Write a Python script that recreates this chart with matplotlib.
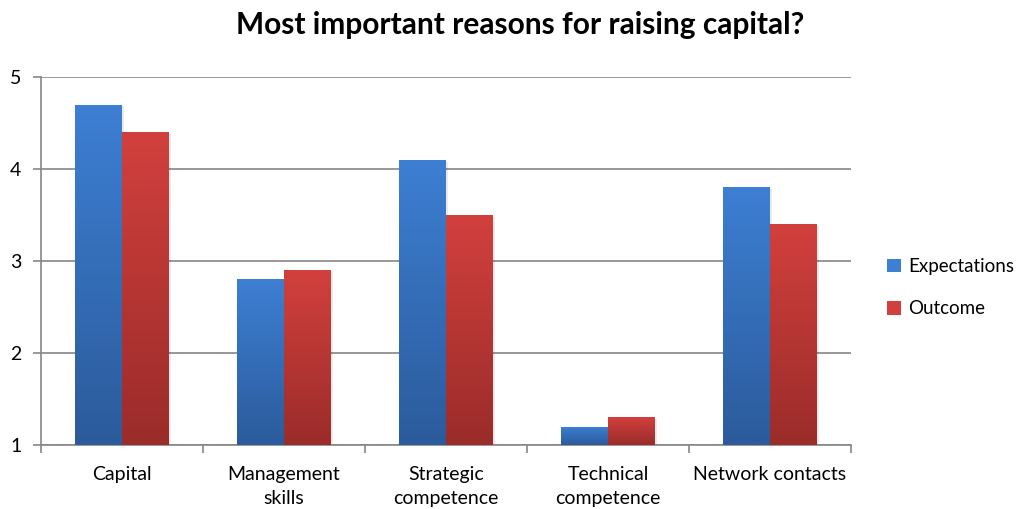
import numpy as np
import matplotlib
matplotlib.use("Agg")
import matplotlib.pyplot as plt
from matplotlib.colors import LinearSegmentedColormap
from matplotlib.patches import Patch

plt.rcParams['font.family'] = ['Lato', 'DejaVu Sans']

categories = ["Capital", "Management\nskills", "Strategic\ncompetence",
              "Technical\ncompetence", "Network contacts"]
expectations = [4.7, 2.8, 4.1, 1.2, 3.8]
outcome = [4.4, 2.9, 3.5, 1.3, 3.4]

series = [
    ("Expectations", expectations, "#3d7fd3", "#2b5b9b"),
    ("Outcome", outcome, "#d2403d", "#9a2c2a"),
]

fig = plt.figure(figsize=(10.24, 5.09), dpi=100)
ax = fig.add_axes([0.040, 0.1257, 0.791, 0.723])

base = 1
width = 0.29
x = np.arange(len(categories))
grad = np.linspace(0, 1, 256).reshape(-1, 1)

for i, (name, vals, top, bottom) in enumerate(series):
    cmap = LinearSegmentedColormap.from_list(name, [bottom, top])
    offset = (i - 0.5) * width
    bars = ax.bar(x + offset, np.array(vals) - base, width, bottom=base,
                  color="none", edgecolor="none", zorder=3)
    for b in bars:
        bx, by = b.get_x(), b.get_y()
        bw, bh = b.get_width(), b.get_height()
        # soft drop shadow
        ax.add_patch(plt.Rectangle((bx + 0.01, by - 0.02), bw, bh,
                                   color="#000000", alpha=0.08, zorder=2,
                                   lw=0))
        im = ax.imshow(grad, extent=(bx, bx + bw, by, by + bh),
                       origin="lower", cmap=cmap, aspect="auto", zorder=3)
        im.set_clip_path(b)

ax.set_xlim(-0.5, len(categories) - 0.5)
ax.set_ylim(1, 5)
ax.set_yticks([1, 2, 3, 4, 5])
ax.yaxis.grid(True, color="#868686", lw=1.2, zorder=0)
ax.set_axisbelow(True)

ax.set_xticks(x)
ax.set_xticklabels(categories, fontsize=14, linespacing=1.5)
ax.set_xticks(np.arange(-0.5, len(categories)), minor=True)
ax.tick_params(axis="x", which="major", length=0, pad=15)
ax.tick_params(axis="x", which="minor", length=6, width=1.2, color="#868686")
ax.tick_params(axis="y", length=6, width=1.2, color="#868686",
               labelsize=14, pad=8)

for side in ("top", "right"):
    ax.spines[side].set_visible(False)
for side in ("left", "bottom"):
    ax.spines[side].set_color("#868686")
    ax.spines[side].set_linewidth(1.2)

fig.suptitle("Most important reasons for raising capital?", x=0.508, y=0.978,
             fontsize=21.5, fontweight="bold")

handles = [Patch(facecolor=top, edgecolor="none", label=name)
           for name, _, top, _ in series]
fig.legend(handles=handles, loc="center left", bbox_to_anchor=(0.85, 0.435),
           frameon=False, fontsize=13.5, handlelength=0.75, handleheight=0.75,
           handletextpad=0.35, labelspacing=1.35)

fig.savefig("out.png", dpi=100)
